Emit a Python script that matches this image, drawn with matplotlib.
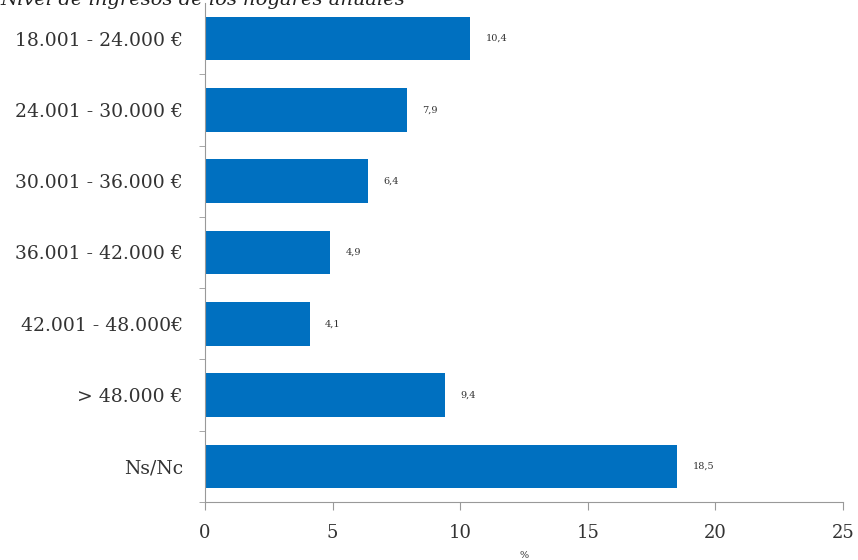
import matplotlib.pyplot as plt
import numpy as np

categories = ["18.001 - 24.000 €", "24.001 - 30.000 €", "30.001 - 36.000 €",
              "36.001 - 42.000 €", "42.001 - 48.000€", "> 48.000 €", "Ns/Nc"]
values = [10.4, 7.9, 6.4, 4.9, 4.1, 9.4, 18.5]
value_labels = ["10,4", "7,9", "6,4", "4,9", "4,1", "9,4", "18,5"]
xticks = [0, 5, 10, 15, 20, 25]

plt.rcParams['font.family'] = ['DejaVu Serif']

fig = plt.figure(figsize=(8.58, 5.6), dpi=100)
ax = fig.add_axes([205 / 858, 58 / 560, (843 - 205) / 858, 499 / 560])

y = np.arange(len(categories))
bars = ax.barh(y, values, height=0.61, color='#0070C0')

for bar, lab in zip(bars, value_labels):
    ax.text(bar.get_width() + 0.6, bar.get_y() + bar.get_height() / 2, lab,
            va='center', ha='left', fontsize=7, color='#333333')

ax.set_ylim(len(categories) - 0.55, -0.5)
ax.set_xlim(0, 25)
ax.set_yticks(y)
ax.set_yticklabels(categories, fontsize=13.5, color='#333333')
ax.set_yticks(np.arange(len(categories)) + 0.5, minor=True)
ax.tick_params(axis='y', which='major', length=0, pad=16)
ax.tick_params(axis='y', which='minor', length=4, color='#999999')
ax.set_xticks(xticks)
ax.set_xticklabels([str(t) for t in xticks], fontsize=13, color='#333333')
ax.tick_params(axis='x', length=6, color='#999999', pad=10)

for s in ['top', 'right']:
    ax.spines[s].set_visible(False)
ax.spines['left'].set_color('#999999')
ax.spines['bottom'].set_color('#999999')

ax.set_xlabel("%", fontsize=7, color='#333333', labelpad=6)

# título recortado en la parte superior de la imagen original
fig.text(0.0, 1 - 5 / 560, "Nivel de ingresos de los hogares anuales",
         fontsize=14, style='italic', va='baseline', ha='left', color='#222222')

fig.savefig("out.png", dpi=100)
